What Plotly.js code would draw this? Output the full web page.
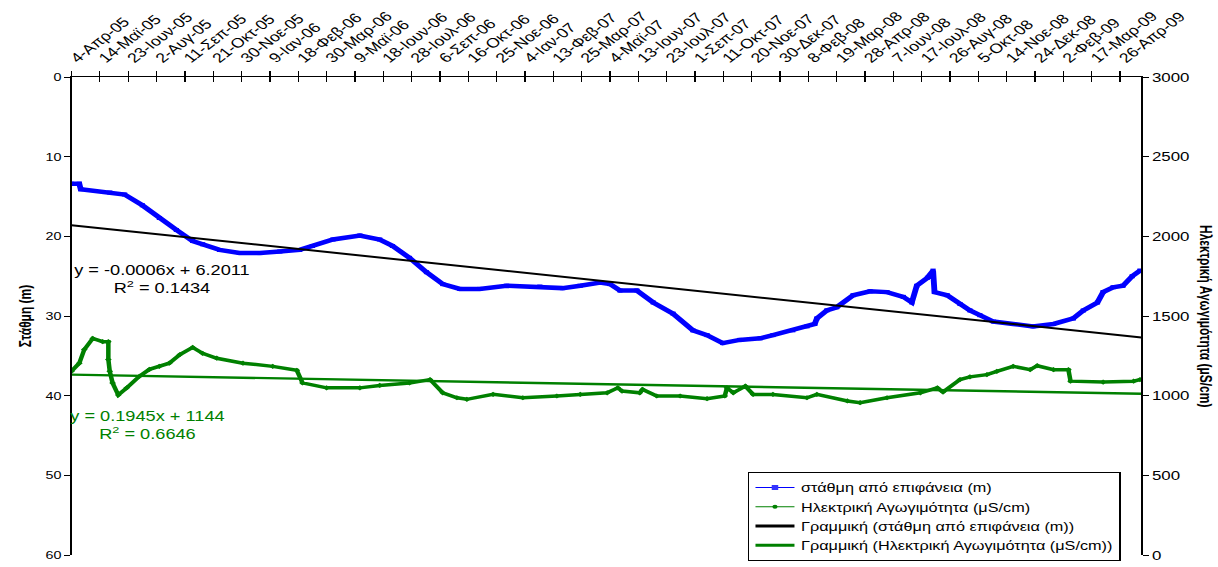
<!DOCTYPE html>
<html><head><meta charset="utf-8">
<script src="https://cdn.plot.ly/plotly-3.0.1.min.js"></script>
<style>
html,body{margin:0;padding:0;overflow:hidden;background:#fff;}
#wrap{width:937px;height:567px;transform:scaleX(1.3);transform-origin:0 0;}
#chart{width:937px;height:567px;}
</style></head><body><div id="wrap"><div id="chart"></div></div>
<script>
// x = days since 4-Apr-2005
const tickLabels = ["4-Απρ-05","14-Μαϊ-05","23-Ιουν-05","2-Αυγ-05","11-Σεπ-05","21-Οκτ-05","30-Νοε-05","9-Ιαν-06","18-Φεβ-06","30-Μαρ-06","9-Μαϊ-06","18-Ιουν-06","28-Ιουλ-06","6-Σεπ-06","16-Οκτ-06","25-Νοε-06","4-Ιαν-07","13-Φεβ-07","25-Μαρ-07","4-Μαϊ-07","13-Ιουν-07","23-Ιουλ-07","1-Σεπ-07","11-Οκτ-07","20-Νοε-07","30-Δεκ-07","8-Φεβ-08","19-Μαρ-08","28-Απρ-08","7-Ιουν-08","17-Ιουλ-08","26-Αυγ-08","5-Οκτ-08","14-Νοε-08","24-Δεκ-08","2-Φεβ-09","17-Μαρ-09","26-Απρ-09"];
const tickDays = [0,40,80,120,160,200,240,280,320,360,400,440,480,520,560,600,640,680,720,760,800,840,880,920,960,1000,1040,1080,1120,1160,1200,1240,1280,1320,1360,1400,1440,1480];

const levelDays = [0,11,13,54,75,100,124,148,171,185,209,237,266,294,322,340,369,407,435,453,477,501,524,548,576,614,661,693,718,746,760,774,798,821,849,877,897,919,943,972,990,1018,1038,1049,1052,1066,1080,1103,1127,1151,1174,1186,1193,1208,1216,1218,1236,1254,1268,1282,1301,1329,1357,1386,1414,1428,1448,1456,1470,1484,1497,1508];
const levelVals = [13.4,13.4,14.1,14.5,14.75,16.1,17.7,19.2,20.6,21.0,21.7,22.1,22.1,21.9,21.7,21.2,20.4,19.9,20.4,21.2,22.7,24.5,26.0,26.6,26.6,26.2,26.3,26.5,26.2,25.8,26.0,26.8,26.8,28.3,29.7,31.8,32.4,33.4,33.0,32.8,32.4,31.8,31.3,31.0,30.3,29.3,28.9,27.4,26.9,27.0,27.6,28.3,26.2,25.2,24.3,27.0,27.4,28.5,29.3,29.9,30.7,31.0,31.3,31.0,30.3,29.3,28.3,27.0,26.4,26.2,25.0,24.3];

const condDays = [0,11,18,30,44,52,52,54,58,66,78,96,110,124,138,153,171,185,205,242,284,318,326,360,407,435,477,506,524,544,558,595,637,685,718,756,771,777,802,806,826,859,897,922,925,934,951,962,990,1038,1052,1095,1113,1151,1198,1222,1230,1254,1268,1292,1306,1329,1353,1363,1386,1407,1410,1456,1499,1508];
const condVals = [1153,1204,1289,1359,1339,1339,1227,1153,1080,1004,1049,1122,1165,1184,1204,1258,1303,1266,1235,1204,1184,1159,1080,1049,1049,1064,1080,1101,1018,987,977,1008,987,998,1008,1018,1049,1029,1018,1039,998,998,981,998,1049,1018,1060,1008,1008,987,1008,967,956,987,1018,1049,1023,1101,1118,1132,1153,1184,1163,1188,1163,1163,1091,1085,1091,1101];

const trendDays = [0,1510];
const levelTrend = [18.6,32.7];
const condTrend = [1132,1012];

const names = ["στάθμη από επιφάνεια (m)","Ηλεκτρική Αγωγιμότητα (μS/cm)","Γραμμική (στάθμη από επιφάνεια (m))","Γραμμική (Ηλεκτρική Αγωγιμότητα (μS/cm))"];
const blue = "#0000FF", green = "#008000", black = "#000000";

const traces = [
  {x: levelDays, y: levelVals, yaxis:'y', mode:'lines+markers', line:{color:blue,width:4.5}, marker:{symbol:'square',size:4,color:blue}, showlegend:false, hoverinfo:'skip'},
  {x: condDays, y: condVals, xaxis:'x2', yaxis:'y2', mode:'lines+markers', line:{color:green,width:3.5}, marker:{symbol:'diamond',size:4,color:green}, showlegend:false, hoverinfo:'skip'},
  {x: trendDays, y: levelTrend, yaxis:'y', mode:'lines', line:{color:black,width:2}, showlegend:false},
  {x: trendDays, y: condTrend, xaxis:'x2', yaxis:'y2', mode:'lines', line:{color:green,width:2.4}, showlegend:false},
  // legend entries
  {x:[null], y:[null], name:names[0], mode:'lines+markers', line:{color:blue,width:1}, marker:{symbol:'square',size:5,color:'#3333ff'}},
  {x:[null], y:[null], name:names[1], mode:'lines+markers', line:{color:green,width:1}, marker:{symbol:'circle',size:4,color:green}},
  {x:[null], y:[null], name:names[2], mode:'lines', line:{color:black,width:3}},
  {x:[null], y:[null], name:names[3], mode:'lines', line:{color:green,width:3}}
];

const font = 'Liberation Sans, Arial, sans-serif';
const layout = {
  width:937, height:567,
  margin:{l:55, r:59, t:77, b:6},
  paper_bgcolor:'#fff', plot_bgcolor:'#fff',
  font:{family:font, size:12, color:'#000'},
  showlegend:true,
  legend:{x:0.632, y:0.174, xanchor:'left', yanchor:'top', bgcolor:'#fff', bordercolor:'#000', borderwidth:1, font:{size:12.5}, traceorder:'normal', tracegroupgap:0},
  xaxis:{range:[0,1510], side:'top', tickmode:'array', tickvals:tickDays, ticktext:tickLabels, tickangle:-45, tickfont:{size:13.5}, ticks:'outside', ticklen:5, tickcolor:'#000', showline:true, linecolor:'#000', linewidth:1, showgrid:false, zeroline:false},
  xaxis2:{matches:'x', overlaying:'x', side:'top', tickmode:'array', tickvals:tickDays, showticklabels:false, ticks:'inside', ticklen:5, tickcolor:'#000', showline:false, showgrid:false, zeroline:false},
  yaxis:{range:[60,0], tick0:0, dtick:10, ticks:'outside', ticklen:4, tickcolor:'#000', showline:true, linecolor:'#000', linewidth:1.5, showgrid:false, zeroline:false, tickfont:{size:11}, title:{text:'<b>Στάθμη (m)</b>', font:{size:12}, standoff:8}},
  yaxis2:{range:[0,3000], tick0:0, dtick:500, overlaying:'y', side:'right', anchor:'x', ticks:'outside', ticklen:4, tickcolor:'#000', showline:true, linecolor:'#000', linewidth:1.5, showgrid:false, zeroline:false, tickfont:{size:13}},
  annotations:[
    {xref:'paper', yref:'paper', x:0.0842, y:0.578, text:'y = -0.0006x + 6.2011<br>R<sup>2</sup> = 0.1434', showarrow:false, font:{size:14,color:black}, align:'center', xanchor:'center', yanchor:'middle'},
    {xref:'paper', yref:'paper', x:0.0711, y:0.272, text:'y = 0.1945x + 1144<br>R<sup>2</sup> = 0.6646', showarrow:false, font:{size:14,color:green}, align:'center', xanchor:'center', yanchor:'middle'},
    {xref:'paper', yref:'paper', x:1.0596, y:0.5, text:'<b>Ηλεκτρική Αγωγιμότητα (μS/cm)</b>', textangle:90, showarrow:false, font:{size:12,color:black}, xanchor:'center', yanchor:'middle'}
  ]
};
Plotly.newPlot('chart', traces, layout, {staticPlot:true, displayModeBar:false});
</script></body></html>
